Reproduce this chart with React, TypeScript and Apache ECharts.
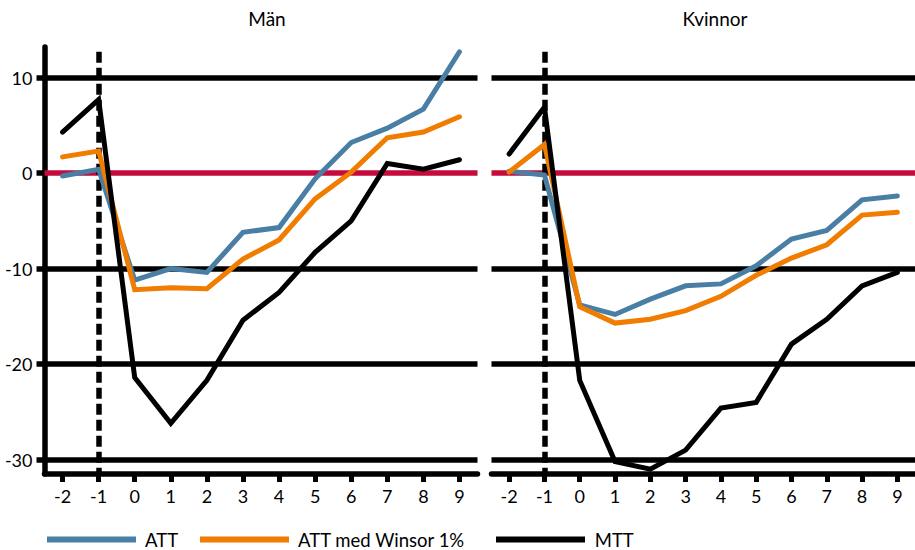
import React, { useEffect, useRef } from "react";
import * as echarts from "echarts";

const categories = ["-2", "-1", "0", "1", "2", "3", "4", "5", "6", "7", "8", "9"];
const yTicks = [-30, -20, -10, 0, 10];

const menATT = [-0.3, 0.4, -11.2, -10.0, -10.4, -6.2, -5.7, -0.6, 3.2, 4.7, 6.7, 12.7];
const menWinsor = [1.7, 2.3, -12.2, -12.0, -12.1, -9.0, -7.0, -2.7, 0.1, 3.7, 4.3, 5.9];
const menMTT = [4.3, 7.7, -21.4, -26.2, -21.7, -15.4, -12.5, -8.3, -5.0, 1.0, 0.4, 1.4];

const womenATT = [0.2, -0.2, -13.8, -14.8, -13.2, -11.8, -11.6, -9.7, -6.9, -6.0, -2.8, -2.4];
const womenWinsor = [0.1, 3.0, -14.0, -15.7, -15.3, -14.4, -12.9, -10.7, -8.9, -7.5, -4.4, -4.1];
const womenMTT = [2.0, 6.9, -21.7, -30.2, -31.0, -29.0, -24.6, -24.0, -17.9, -15.3, -11.8, -10.4];

const panelTitles = ["Män", "Kvinnor"];
const seriesNames = ["ATT", "ATT med Winsor 1%", "MTT"];

const BLUE = "#4a7fa5";
const ORANGE = "#f07c00";
const RED = "#c50a3c";
const FONT = "Lato";
const Y_MIN = -31.5;
const Y_MAX = 13.2;

export default function App() {
  const ref = useRef<HTMLDivElement>(null);

  useEffect(() => {
    if (!ref.current) return;
    const chart = echarts.init(ref.current, null, { renderer: "svg" });

    const gridMarkLine = (withDash: boolean) => ({
      silent: true,
      symbol: "none",
      z: 1,
      label: { show: false },
      emphasis: { disabled: true },
      data: [
        ...yTicks.map((v) => ({
          yAxis: v,
          lineStyle: { color: v === 0 ? RED : "#000", width: 5.5, type: "solid" },
        })),
        ...(withDash
          ? [
              [
                { coord: ["-1", 12.7], lineStyle: { color: "#000", width: 5.5, type: [11, 5] } },
                { coord: ["-1", Y_MIN] },
              ],
            ]
          : []),
      ],
    });

    const panelData = [
      [menATT, menWinsor, menMTT],
      [womenATT, womenWinsor, womenMTT],
    ];
    const colors = [BLUE, ORANGE, "#000"];

    const series: any[] = [];
    panelData.forEach((sets, p) => {
      sets.forEach((d, i) => {
        series.push({
          type: "line",
          name: seriesNames[i],
          xAxisIndex: p,
          yAxisIndex: p,
          data: d,
          symbol: "none",
          z: 5,
          color: colors[i],
          lineStyle: { width: 5, color: colors[i], cap: "round", join: "miter" },
          emphasis: { disabled: true },
          markLine: i === 0 ? gridMarkLine(true) : undefined,
        });
      });
    });

    const xAxisBase = {
      type: "category",
      data: categories,
      boundaryGap: true,
      axisLine: { show: true, onZero: false, lineStyle: { color: "#000", width: 5.5 } },
      axisTick: { show: true, alignWithLabel: true, length: 8, interval: 0, lineStyle: { color: "#000", width: 5 } },
      axisLabel: { interval: 0, margin: 13, color: "#000", fontFamily: FONT, fontSize: 18 },
      splitLine: { show: false },
    };

    const legendLefts = [47, 200, 496];

    chart.setOption({
      animation: false,
      backgroundColor: "#fff",
      grid: [
        { left: 44.5, top: 47, width: 433, bottom: 76 },
        { left: 491.5, top: 47, width: 433, bottom: 76 },
      ],
      xAxis: [
        { ...xAxisBase, gridIndex: 0 },
        { ...xAxisBase, gridIndex: 1 },
      ],
      yAxis: [
        {
          type: "value",
          gridIndex: 0,
          min: Y_MIN,
          max: Y_MAX,
          axisLine: { show: true, onZero: false, lineStyle: { color: "#000", width: 5.5 } },
          axisTick: { show: true, customValues: yTicks, length: 8, lineStyle: { color: "#000", width: 5.5 } },
          axisLabel: {
            customValues: yTicks,
            margin: 12,
            color: "#000",
            fontFamily: FONT,
            fontSize: 18,
            padding: [0, 0, 9, 0],
          },
          splitLine: { show: false },
        },
        {
          type: "value",
          gridIndex: 1,
          min: Y_MIN,
          max: Y_MAX,
          show: false,
          splitLine: { show: false },
        },
      ],
      legend: seriesNames.map((name, i) => ({
        data: [name],
        left: legendLefts[i],
        top: 530,
        padding: 0,
        icon: "rect",
        itemWidth: 89,
        itemHeight: 6,
        selectedMode: false,
        formatter: (n: string) => " " + n,
        textStyle: { color: "#000", fontFamily: FONT, fontSize: 18.5, lineHeight: 19 },
      })),
      graphic: [
        {
          type: "text",
          x: 267,
          y: 18,
          style: { text: panelTitles[0], fill: "#000", font: `19px ${FONT}`, textAlign: "center", textVerticalAlign: "middle" },
        },
        {
          type: "text",
          x: 715,
          y: 18,
          style: { text: panelTitles[1], fill: "#000", font: `19px ${FONT}`, textAlign: "center", textVerticalAlign: "middle" },
        },
      ],
      series,
    });

    return () => chart.dispose();
  }, []);

  return (
    <div
      ref={ref}
      style={{ position: "fixed", left: 0, top: 0, width: 915, height: 550, background: "#fff" }}
    />
  );
}
